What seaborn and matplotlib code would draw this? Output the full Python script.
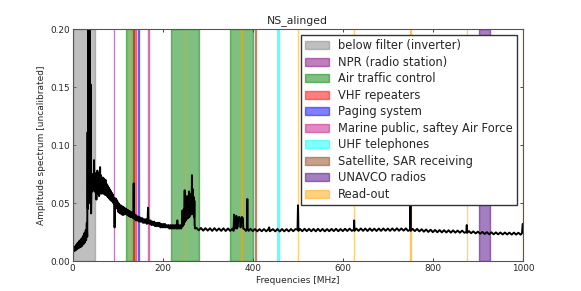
import matplotlib
matplotlib.use('Agg')
import matplotlib.pyplot as plt
import pandas as pd
import seaborn as sns

# spectrum, (frequency MHz, amplitude) pairs per stretch
below_filter = [
    (0, 0.0088), (2, 0.0105), (3, 0.0085), (5, 0.0125), (6, 0.0090), (8, 0.0140), (9, 0.0100),
    (11, 0.0155), (12, 0.0110), (14, 0.0170), (15, 0.0115), (17, 0.0180), (18, 0.0120),
    (20, 0.0195), (21, 0.0130), (23, 0.0215), (24, 0.0145), (26, 0.0240), (27, 0.0160),
    (29, 0.0265), (30, 0.0180), (31.5, 0.0330), (32.5, 0.0210),
    (33.2, 0.111), (33.8, 0.045), (34.5, 0.21), (35.2, 0.060), (36, 0.21), (36.8, 0.050),
    (37.5, 0.21), (38.3, 0.070), (39, 0.152), (39.6, 0.060), (40.3, 0.152), (41, 0.041),
    (41.8, 0.065),
]
low_vhf = [
    (43, 0.074), (43.8, 0.060), (44.5, 0.075), (45.3, 0.062), (46, 0.073), (46.8, 0.061),
    (47.5, 0.087), (48.3, 0.062), (49, 0.076), (49.8, 0.060), (50.5, 0.075), (51.3, 0.059),
    (52, 0.074), (52.8, 0.053), (53.5, 0.076), (54.3, 0.058), (55, 0.078), (55.8, 0.060),
    (56.5, 0.075), (57.3, 0.058), (58, 0.074), (58.8, 0.056), (59.5, 0.076), (60.3, 0.059),
    (61, 0.081), (61.8, 0.060), (62.5, 0.074), (63.3, 0.058), (64, 0.072), (64.8, 0.061),
    (65.5, 0.071), (66.3, 0.059), (67, 0.072), (67.8, 0.058), (68.5, 0.070), (69.3, 0.060),
    (70, 0.071), (70.8, 0.058), (71.5, 0.069), (72.3, 0.057), (73, 0.070), (73.8, 0.058),
    (74.5, 0.067), (75.3, 0.057), (76, 0.066), (76.8, 0.056), (77.5, 0.065), (78.3, 0.055),
    (79, 0.064), (79.8, 0.055), (80.5, 0.063), (81.3, 0.054), (82, 0.062), (82.8, 0.053),
    (83.5, 0.061), (84.3, 0.053), (85, 0.060), (85.8, 0.052), (86.5, 0.059), (87.3, 0.052),
    (88, 0.058), (88.8, 0.051), (89.5, 0.057), (90.3, 0.050), (91, 0.055), (91.8, 0.049),
    (92.5, 0.048), (93.2, 0.029), (94, 0.050), (94.8, 0.047), (95.5, 0.054), (96.3, 0.047),
    (97, 0.053), (97.8, 0.046), (98.5, 0.052), (99.3, 0.045), (100, 0.051), (100.8, 0.043),
    (101.5, 0.050), (102.3, 0.042), (103, 0.049), (103.8, 0.042), (105, 0.048), (106, 0.041),
    (107, 0.048), (108, 0.041), (109, 0.047), (110, 0.040), (111, 0.047), (112, 0.040),
    (113, 0.046), (114, 0.040), (115, 0.046), (116, 0.041), (117, 0.045), (118, 0.041),
    (119, 0.045), (120, 0.040), (121, 0.044), (122, 0.040), (123, 0.044), (124, 0.039),
    (125, 0.043), (126, 0.039), (127, 0.043), (128, 0.038), (129, 0.042), (130, 0.038),
    (131, 0.042), (132, 0.038), (133, 0.041), (134, 0.037), (135, 0.041), (135.6, 0.067),
    (136.2, 0.037), (137, 0.040), (138, 0.036), (139.5, 0.040), (141, 0.035), (142.5, 0.039),
    (144, 0.035), (145.5, 0.038), (147, 0.034), (148.5, 0.038), (150, 0.034), (151.5, 0.037),
    (153, 0.034), (154.5, 0.037), (156, 0.033), (157.5, 0.036), (159, 0.033), (160.5, 0.036),
    (162, 0.033), (163.5, 0.036), (165, 0.032), (166.5, 0.035), (167.4, 0.046), (168.2, 0.033),
    (169.5, 0.035), (171, 0.032), (173, 0.035), (175, 0.031), (177, 0.034), (179, 0.031),
    (181, 0.034), (183, 0.030), (185, 0.033), (187, 0.030), (189, 0.033), (191, 0.030),
    (193, 0.033), (195, 0.029), (197, 0.032), (199, 0.029), (201, 0.032), (203, 0.029),
    (205, 0.032), (207, 0.029), (209, 0.031), (211, 0.029), (213, 0.031), (215, 0.028),
    (217, 0.031), (219, 0.028), (221, 0.031), (223, 0.028), (225, 0.031), (227, 0.028),
    (229, 0.031), (231, 0.028), (232.6, 0.035), (233.5, 0.028), (235, 0.031), (237, 0.028),
    (239, 0.031), (241, 0.028),
]
mid_band = [
    (243, 0.030), (243.7, 0.0435), (244.5, 0.030), (245.5, 0.036), (246.2, 0.031),
    (247, 0.045), (247.8, 0.033), (248.9, 0.061), (249.6, 0.034), (250.5, 0.047),
    (251.3, 0.035), (252.2, 0.050), (253, 0.036), (254, 0.056), (254.8, 0.037),
    (255.7, 0.048), (256.5, 0.037), (257.5, 0.052), (258.5, 0.060), (259.3, 0.038),
    (260.3, 0.050), (261.5, 0.054), (262.3, 0.040), (263.3, 0.058), (264.2, 0.041),
    (265, 0.074), (265.8, 0.042), (266.6, 0.062), (267.4, 0.060), (268.2, 0.040),
    (269, 0.055), (269.8, 0.038), (270.4, 0.052), (271, 0.031), (272, 0.028),
    (275, 0.0285), (280, 0.0265), (285, 0.0285), (290, 0.0262), (295, 0.0283), (300, 0.0262),
    (305, 0.0282), (310, 0.0260), (315, 0.0283), (320, 0.0261), (325, 0.0281), (330, 0.0260),
    (335, 0.0282), (340, 0.0259), (345, 0.0281), (350, 0.0260), (355, 0.0280),
    (357.5, 0.026), (358.5, 0.040), (360, 0.028), (362, 0.030), (363.7, 0.039), (365, 0.028),
    (367, 0.030), (368, 0.037), (370, 0.038), (372, 0.036), (373, 0.029), (374, 0.036),
    (376, 0.038), (378, 0.037), (379, 0.028), (382, 0.0275), (385, 0.026), (387.5, 0.028),
    (388, 0.0535), (388.6, 0.028), (391, 0.026), (395, 0.0278), (400, 0.0258),
]
uhf = [
    (405, 0.0276), (410, 0.0256), (415, 0.0275), (420, 0.0257), (425, 0.0276), (430, 0.0256),
    (435, 0.0276), (436.5, 0.029), (438, 0.0257), (445, 0.0275), (450, 0.0256), (455, 0.0276),
    (460, 0.0255), (465, 0.0276), (470, 0.0256), (475, 0.0275), (480, 0.0256), (485, 0.0276),
    (490, 0.0257), (495, 0.0276), (499.5, 0.027), (500.5, 0.048), (501.5, 0.026),
    (505, 0.0277), (510, 0.0257), (515, 0.0278), (520, 0.0258), (525, 0.0277), (530, 0.0257),
    (535, 0.0277), (540, 0.0256), (545, 0.0278), (550, 0.0257), (555, 0.0277), (560, 0.0256),
    (565, 0.0276), (570, 0.0257), (575, 0.0277), (580, 0.0258), (585, 0.0278), (590, 0.0257),
    (595, 0.0276), (600, 0.0258), (605, 0.0278), (610, 0.0259), (615, 0.0279), (620, 0.0260),
    (624.5, 0.027), (625.3, 0.035), (626, 0.026), (630, 0.0280), (635, 0.0260), (640, 0.0281),
    (645, 0.0260), (650, 0.0280), (655, 0.0259), (660, 0.0281), (665, 0.0260), (670, 0.0279),
    (675, 0.0259), (680, 0.0280), (685, 0.0260), (690, 0.0281), (695, 0.0261), (700, 0.0280),
    (705, 0.0260), (710, 0.0281), (715, 0.0261), (720, 0.0282), (725, 0.0261), (730, 0.0281),
    (735, 0.0262), (740, 0.0281), (745, 0.026), (749.5, 0.027), (750.3, 0.049), (751, 0.026),
    (755, 0.0278), (760, 0.0258), (765, 0.0277), (770, 0.0256), (775, 0.0274), (780, 0.0253),
    (785, 0.0272), (790, 0.0251), (795, 0.0270), (800, 0.0249), (805, 0.0268), (810, 0.0248),
    (815, 0.0267), (820, 0.0247), (825, 0.0266), (830, 0.0246), (835, 0.0265), (840, 0.0245),
    (845, 0.0264), (850, 0.0245), (855, 0.0263), (860, 0.0244), (865, 0.0262), (870, 0.0244),
    (874.5, 0.025), (875.3, 0.031), (876, 0.0243), (880, 0.0258), (885, 0.0240), (890, 0.0256),
    (895, 0.0238), (900, 0.0253), (905, 0.0235), (910, 0.0251), (915, 0.0233), (920, 0.0249),
    (925, 0.0231), (930, 0.0248), (935, 0.0230), (940, 0.0247), (945, 0.0230), (950, 0.0246),
    (955, 0.0229), (960, 0.0246), (965, 0.0229), (970, 0.0245), (975, 0.0228), (980, 0.0245),
    (985, 0.0228), (990, 0.0244), (995, 0.0227), (998, 0.024), (999.5, 0.032),
]

# frequency allocations shaded behind the spectrum (MHz)
band_labels = ['below filter (inverter)', 'NPR (radio station)', 'Air traffic control',
               'VHF repeaters', 'Paging system', 'Marine public, saftey Air Force',
               'UHF telephones', 'Satellite, SAR receiving', 'UNAVCO radios', 'Read-out']
band_ranges = [
    [(0, 50)],
    [(91, 92.5)],
    [(118, 137), (218, 280), (350, 400)],
    [(134, 141)],
    [(145.5, 146.5)],
    [(168.5, 169.5)],
    [(454, 459)],
    [(405.5, 406.5)],
    [(902, 928)],
    [(125, 125.5), (250, 250.5), (375, 375.5), (500, 500.5), (625, 625.5),
     (750, 750.5), (875, 875.5), (999.5, 1000)],
]
band_colors = ['gray', 'purple', 'green', 'red', 'blue', 'mediumvioletred',
               'cyan', 'saddlebrown', 'indigo', 'orange']

sns.set_style('white')
plt.rcParams['font.family'] = ['DejaVu Sans']
plt.rcParams['xtick.direction'] = 'in'
plt.rcParams['ytick.direction'] = 'in'

fig = plt.figure(figsize=(5.81, 2.91), dpi=100)
ax = fig.add_subplot(111)
fig.subplots_adjust(left=0.125, right=0.9, bottom=0.103, top=0.9)

for label, ranges, color in zip(band_labels, band_ranges, band_colors):
    for i, (lo, hi) in enumerate(ranges):
        ax.axvspan(lo, hi, color=color, alpha=0.5, lw=1,
                   label=label if i == 0 else None)

df = pd.DataFrame(below_filter + low_vhf + mid_band + uhf, columns=['freq', 'amp'])
sns.lineplot(x='freq', y='amp', data=df, color='black', lw=1.4, estimator=None, ax=ax)

ax.set_xlim(0, 1000)
ax.set_ylim(0, 0.2)
ax.set_xticks([0, 200, 400, 600, 800, 1000])
ax.set_yticks([0, 0.05, 0.1, 0.15, 0.2])
ax.yaxis.set_major_formatter(matplotlib.ticker.FormatStrFormatter('%.2f'))
ax.tick_params(axis='both', labelsize=6.4, length=2.5, width=0.6, top=True, right=True,
               bottom=True, left=True, pad=2, color='#222222')
for spine in ax.spines.values():
    spine.set_color('#555555')
    spine.set_linewidth(0.8)

ax.set_title('NS_alinged', fontsize=7.8, pad=4)
ax.set_xlabel('Frequencies [MHz]', fontsize=6.5, labelpad=2)
ax.set_ylabel('Amplitude spectrum [uncalibrated]', fontsize=6.5, labelpad=3)

ax.legend(loc='upper right', fontsize=8.3, labelspacing=0.3, borderpad=0.4,
          handletextpad=0.8, handlelength=2.0, fancybox=False, framealpha=1,
          edgecolor='#333333', borderaxespad=0.5)

fig.savefig('out.png', dpi=100)
